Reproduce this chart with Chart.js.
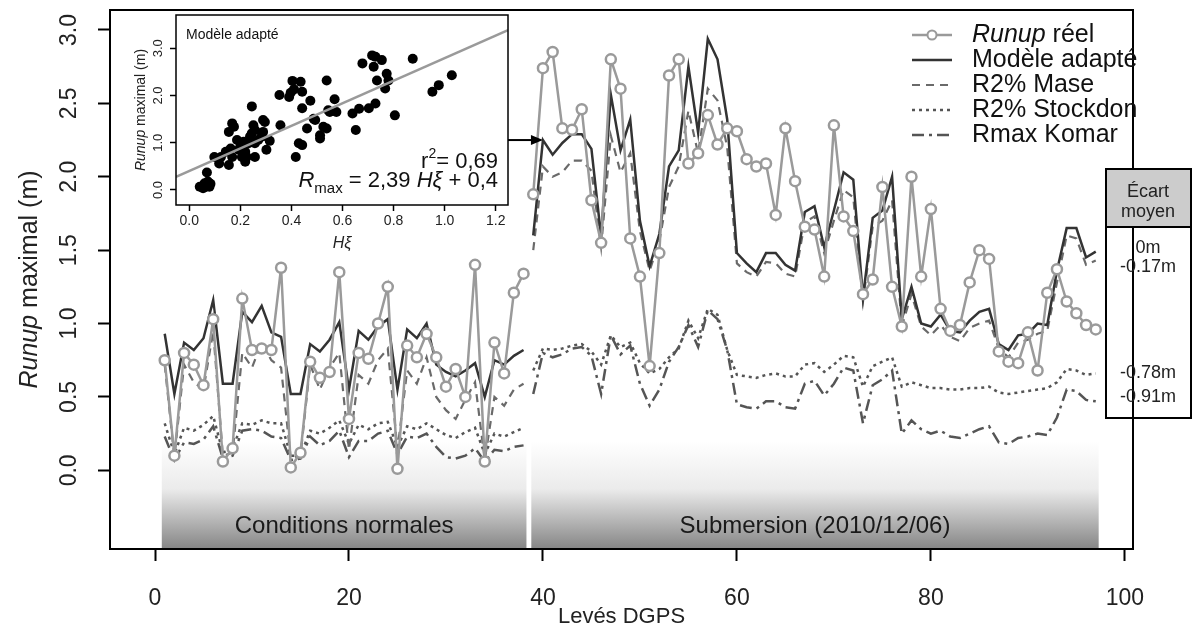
<!DOCTYPE html>
<html>
<head>
<meta charset="utf-8">
<script src="https://cdn.jsdelivr.net/npm/chart.js@4.4.0/dist/chart.umd.min.js"></script>
<style>
  html, body { margin: 0; padding: 0; background: #fff; }
  #wrap { position: relative; width: 1192px; height: 630px; overflow: hidden; }
  #main { position: absolute; left: 0; top: 0; }
  #inset { position: absolute; left: 120px; top: 8px; }
</style>
</head>
<body>
<div id="wrap">
  <canvas id="main" width="1192" height="630"></canvas>
  <canvas id="inset" width="400" height="260"></canvas>
</div>
<script>
const FONT = '"Liberation Sans", Arial, Helvetica, sans-serif';

// Levés 1-38 : conditions normales, levés 39-97 : submersion
const runupNormal = [0.75, 0.10, 0.80, 0.72, 0.58, 1.03, 0.06, 0.15, 1.17, 0.82,
  0.83, 0.82, 1.38, 0.02, 0.12, 0.74, 0.63, 0.67, 1.35, 0.35,
  0.80, 0.76, 1.00, 1.25, 0.01, 0.85, 0.77, 0.93, 0.77, 0.57,
  0.69, 0.50, 1.40, 0.06, 0.87, 0.66, 1.21, 1.34];
const runupSubmersion = [1.88, 2.74, 2.85, 2.33, 2.32, 2.46, 1.84, 1.55, 2.80, 2.60,
  1.58, 1.32, 0.71, 1.48, 2.69, 2.80, 2.09, 2.16, 2.42, 2.22,
  2.33, 2.31, 2.12, 2.07, 2.09, 1.74, 2.33, 1.97, 1.66, 1.64,
  1.32, 2.35, 1.73, 1.63, 1.20, 1.30, 1.93, 1.25, 0.98, 2.00,
  1.32, 1.78, 1.10, 0.95, 0.99, 1.28, 1.50, 1.44, 0.81, 0.74,
  0.73, 0.94, 0.68, 1.21, 1.37, 1.15, 1.07, 0.99, 0.96];

const modeleNormal = [0.93, 0.52, 0.87, 0.82, 0.90, 1.16, 0.59, 0.59, 1.08, 1.01,
  1.12, 0.94, 0.91, 0.52, 0.52, 0.86, 0.81, 0.89, 1.01, 0.55,
  0.95, 0.89, 0.98, 1.03, 0.55, 0.96, 0.90, 1.00, 0.72, 0.67,
  0.64, 0.68, 0.73, 0.50, 0.75, 0.72, 0.78, 0.82];
const modeleSubmersion = [1.60, 2.25, 2.15, 2.23, 2.29, 2.29, 2.19, 1.59, 2.56, 2.18,
  2.39, 1.70, 1.39, 1.61, 2.07, 2.18, 2.75, 2.30, 2.94, 2.80,
  2.39, 1.48, 1.41, 1.35, 1.48, 1.48, 1.40, 1.36, 1.76, 1.80,
  1.52, 1.77, 2.03, 1.98, 1.18, 1.72, 1.77, 2.00, 1.03, 1.25,
  1.00, 0.98, 1.06, 0.95, 0.94, 1.02, 1.08, 1.10, 0.86, 0.82,
  0.92, 0.93, 1.00, 0.99, 1.36, 1.65, 1.65, 1.45, 1.49];

const maseNormal = [0.72, 0.09, 0.72, 0.60, 0.55, 0.95, 0.10, 0.12, 0.80, 0.70,
  0.87, 0.75, 0.70, 0.08, 0.10, 0.72, 0.55, 0.70, 0.80, 0.14,
  0.65, 0.59, 0.75, 0.83, 0.14, 0.68, 0.59, 0.77, 0.50, 0.41,
  0.35, 0.48, 0.60, 0.07, 0.50, 0.44, 0.55, 0.59];
const maseSubmersion = [1.50, 2.07, 2.00, 2.03, 2.11, 2.11, 2.04, 1.52, 2.28, 2.03,
  2.16, 1.63, 1.36, 1.56, 1.93, 2.07, 2.45, 2.16, 2.60, 2.52,
  2.20, 1.41, 1.35, 1.32, 1.42, 1.41, 1.34, 1.32, 1.69, 1.73,
  1.48, 1.70, 1.91, 1.86, 1.15, 1.66, 1.70, 1.84, 0.98, 1.20,
  0.98, 0.92, 0.99, 0.91, 0.88, 0.97, 1.00, 1.02, 0.83, 0.77,
  0.87, 0.89, 0.93, 0.95, 1.28, 1.60, 1.58, 1.40, 1.43];

const stockdonNormal = [0.32, 0.11, 0.29, 0.27, 0.31, 0.37, 0.12, 0.15, 0.32, 0.31,
  0.34, 0.32, 0.32, 0.10, 0.10, 0.27, 0.25, 0.29, 0.34, 0.18,
  0.31, 0.28, 0.32, 0.33, 0.16, 0.30, 0.28, 0.32, 0.28, 0.24,
  0.22, 0.26, 0.29, 0.11, 0.25, 0.23, 0.26, 0.29];
const stockdonSubmersion = [0.68, 0.83, 0.82, 0.83, 0.85, 0.86, 0.81, 0.72, 0.92, 0.84,
  0.87, 0.73, 0.66, 0.69, 0.77, 0.83, 1.02, 0.90, 1.10, 1.06,
  0.82, 0.65, 0.64, 0.63, 0.65, 0.66, 0.64, 0.64, 0.72, 0.73,
  0.67, 0.72, 0.78, 0.77, 0.57, 0.71, 0.74, 0.77, 0.57, 0.60,
  0.58, 0.56, 0.56, 0.55, 0.55, 0.56, 0.56, 0.57, 0.53, 0.52,
  0.53, 0.54, 0.55, 0.56, 0.60, 0.69, 0.68, 0.65, 0.66];

const komarNormal = [0.23, 0.07, 0.19, 0.18, 0.21, 0.30, 0.08, 0.10, 0.27, 0.28,
  0.27, 0.23, 0.22, 0.07, 0.08, 0.23, 0.17, 0.20, 0.27, 0.09,
  0.20, 0.20, 0.25, 0.27, 0.11, 0.23, 0.22, 0.25, 0.16, 0.09,
  0.08, 0.10, 0.15, 0.06, 0.14, 0.13, 0.16, 0.17];
const komarSubmersion = [0.52, 0.80, 0.77, 0.79, 0.83, 0.84, 0.78, 0.52, 0.92, 0.79,
  0.85, 0.59, 0.44, 0.55, 0.74, 0.84, 0.99, 0.84, 1.09, 1.03,
  0.82, 0.45, 0.43, 0.42, 0.47, 0.47, 0.43, 0.42, 0.59, 0.61,
  0.51, 0.59, 0.70, 0.68, 0.32, 0.58, 0.62, 0.68, 0.25, 0.34,
  0.28, 0.25, 0.27, 0.23, 0.22, 0.25, 0.28, 0.30, 0.19, 0.18,
  0.22, 0.23, 0.25, 0.24, 0.36, 0.55, 0.54, 0.48, 0.47];

const xTicks = [0, 20, 40, 60, 80, 100];
const yTicks = [0, 0.5, 1, 1.5, 2, 2.5, 3];

// encart : runup observé en fonction de H.xi
const insetHxi = [0.041, 0.054, 0.066, 0.079, 0.060, 0.073, 0.083, 0.069, 0.098, 0.117,
  0.124, 0.143, 0.162, 0.168, 0.155, 0.168, 0.175, 0.155, 0.187, 0.194,
  0.200, 0.206, 0.213, 0.219, 0.219, 0.225, 0.232, 0.238, 0.245, 0.245,
  0.251, 0.257, 0.257, 0.257, 0.270, 0.283, 0.289, 0.296, 0.289, 0.302,
  0.315, 0.353, 0.357, 0.391, 0.397, 0.404, 0.410, 0.417, 0.436, 0.442,
  0.442, 0.429, 0.442, 0.461, 0.474, 0.487, 0.493, 0.512, 0.512, 0.525,
  0.538, 0.538, 0.544, 0.550, 0.569, 0.576, 0.639, 0.652, 0.665, 0.678,
  0.703, 0.716, 0.722, 0.729, 0.729, 0.735, 0.754, 0.767, 0.773, 0.780,
  0.805, 0.875, 0.952, 0.977, 1.028];
const insetRunup = [0.07, 0.035, 0.07, 0.07, 0.14, 0.18, 0.13, 0.37, 0.70, 0.56,
  0.70, 0.81, 0.88, 0.70, 0.53, 1.41, 1.34, 1.23, 1.06, 0.85,
  0.92, 0.70, 1.02, 0.81, 0.60, 0.70, 0.99, 1.13, 1.77, 1.20,
  1.37, 1.27, 0.99, 0.70, 1.06, 1.13, 1.48, 1.44, 1.23, 0.85,
  1.04, 2.01, 1.37, 1.97, 2.06, 2.31, 2.13, 0.70, 2.29, 2.08,
  1.73, 0.99, 0.95, 1.30, 1.89, 1.51, 1.48, 1.16, 1.09, 1.34,
  1.30, 2.32, 1.69, 1.65, 1.92, 1.65, 1.62, 1.27, 1.72, 2.68,
  1.73, 2.85, 2.61, 2.82, 1.83, 2.32, 2.75, 2.15, 2.46, 2.32,
  1.58, 2.78, 2.08, 2.22, 2.43];
const fitSlope = 2.39;
const fitIntercept = 0.4;
const insetXTicks = [0, 0.2, 0.4, 0.6, 0.8, 1.0, 1.2];
const insetYTicks = [0, 1, 2, 3];

const tableRows = [
  { text: '0m', y: 248 },
  { text: '-0.17m', y: 267 },
  { text: '-0.78m', y: 373 },
  { text: '-0.91m', y: 397 }
];

// one series = normal survey then a break then the submersion survey
function buildSeries(normal, submersion) {
  const pts = normal.map((v, i) => ({ x: i + 1, y: v }));
  pts.push({ x: normal.length + 0.5, y: null });
  submersion.forEach((v, i) => pts.push({ x: normal.length + i + 1, y: v }));
  return pts;
}

function drawRich(ctx, parts, x, y, align) {
  let w = 0;
  parts.forEach(p => { ctx.font = p.font; w += ctx.measureText(p.text).width; });
  let cx = align === 'center' ? x - w / 2 : align === 'right' ? x - w : x;
  ctx.textAlign = 'left';
  ctx.textBaseline = 'middle';
  parts.forEach(p => {
    ctx.font = p.font;
    ctx.fillText(p.text, cx, y + (p.dy || 0));
    cx += ctx.measureText(p.text).width;
  });
}

const datasets = [
  {
    label: 'Runup réel',
    legendParts: [{ text: 'Runup', font: 'italic 25px ' + FONT }, { text: ' réel', font: '25px ' + FONT }],
    data: buildSeries(runupNormal, runupSubmersion),
    borderColor: '#9a9a9a', borderWidth: 2.5,
    pointRadius: 5, pointBorderWidth: 2.5, pointBorderColor: '#9a9a9a', pointBackgroundColor: '#fff'
  },
  {
    label: 'Modèle adapté',
    data: buildSeries(modeleNormal, modeleSubmersion),
    borderColor: '#333', borderWidth: 2.5, pointRadius: 0
  },
  {
    label: 'R2% Mase',
    data: buildSeries(maseNormal, maseSubmersion),
    borderColor: '#6a6a6a', borderWidth: 2.2, borderDash: [8, 6], pointRadius: 0
  },
  {
    label: 'R2% Stockdon',
    data: buildSeries(stockdonNormal, stockdonSubmersion),
    borderColor: '#555', borderWidth: 2.5, borderDash: [3, 4], pointRadius: 0
  },
  {
    label: 'Rmax Komar',
    data: buildSeries(komarNormal, komarSubmersion),
    borderColor: '#555', borderWidth: 2.5, borderDash: [12, 5, 3, 5], pointRadius: 0
  }
];

const bands = [
  { from: 0.7, to: 38.3, label: 'Conditions normales' },
  { from: 38.8, to: 97.3, label: 'Submersion (2010/12/06)' }
];

const mainDecor = {
  id: 'mainDecor',
  beforeDatasetsDraw(chart) {
    const { ctx, chartArea, scales: { x, y } } = chart;
    const top = y.getPixelForValue(0.2);
    const bottom = chartArea.bottom - 1;
    ctx.save();
    bands.forEach(b => {
      const l = x.getPixelForValue(b.from), r = x.getPixelForValue(b.to);
      const grad = ctx.createLinearGradient(0, top, 0, bottom);
      grad.addColorStop(0, '#ffffff');
      grad.addColorStop(0.45, '#ebebeb');
      grad.addColorStop(1, '#878787');
      ctx.fillStyle = grad;
      ctx.fillRect(l, top, r - l, bottom - top);
      ctx.fillStyle = '#1a1a1a';
      ctx.font = '24px ' + FONT;
      ctx.textAlign = 'center';
      ctx.textBaseline = 'middle';
      ctx.fillText(b.label, (l + r) / 2, y.getPixelForValue(-0.38));
    });
    ctx.restore();
  },
  afterDraw(chart) {
    const { ctx, chartArea: a, scales: { x, y } } = chart;
    ctx.save();
    // plot box
    ctx.strokeStyle = '#000';
    ctx.lineWidth = 2;
    ctx.strokeRect(a.left, a.top, a.right - a.left, a.bottom - a.top);

    // y tick labels, parallel to the axis
    ctx.fillStyle = '#222';
    yTicks.forEach(v => {
      ctx.save();
      ctx.translate(70, y.getPixelForValue(v));
      ctx.rotate(-Math.PI / 2);
      ctx.font = '23px ' + FONT;
      ctx.textAlign = 'center';
      ctx.textBaseline = 'middle';
      ctx.fillText(v.toFixed(1), 0, 0);
      ctx.restore();
    });
    ctx.save();
    ctx.translate(30, (a.top + a.bottom) / 2);
    ctx.rotate(-Math.PI / 2);
    drawRich(ctx, [{ text: 'Runup', font: 'italic 25px ' + FONT }, { text: ' maximal (m)', font: '25px ' + FONT }], 0, 0, 'center');
    ctx.restore();

    // legend
    chart.data.datasets.forEach((ds, i) => {
      const ly = 35 + i * 25;
      ctx.save();
      ctx.strokeStyle = ds.borderColor;
      ctx.lineWidth = ds.borderWidth;
      ctx.setLineDash(ds.borderDash || []);
      ctx.beginPath();
      ctx.moveTo(912, ly);
      ctx.lineTo(952, ly);
      ctx.stroke();
      if (ds.pointRadius) {
        ctx.setLineDash([]);
        ctx.fillStyle = '#fff';
        ctx.lineWidth = 2;
        ctx.beginPath();
        ctx.arc(932, ly, 4.5, 0, Math.PI * 2);
        ctx.fill();
        ctx.stroke();
      }
      ctx.restore();
      ctx.fillStyle = '#111';
      drawRich(ctx, ds.legendParts || [{ text: ds.label, font: '25px ' + FONT }], 972, ly, 'left');
    });

    // arrow from the inset to the model curve
    const ay = y.getPixelForValue(modeleSubmersion[1]);
    const ax = x.getPixelForValue(40);
    ctx.strokeStyle = '#000';
    ctx.fillStyle = '#000';
    ctx.lineWidth = 2;
    ctx.beginPath();
    ctx.moveTo(508, ay);
    ctx.lineTo(ax - 8, ay);
    ctx.stroke();
    ctx.beginPath();
    ctx.moveTo(ax, ay);
    ctx.lineTo(ax - 12, ay - 5);
    ctx.lineTo(ax - 12, ay + 5);
    ctx.closePath();
    ctx.fill();

    // table "Écart moyen"
    ctx.fillStyle = '#cccccc';
    ctx.fillRect(1106, 169, 85, 58);
    ctx.strokeRect(1106, 169, 85, 249);
    ctx.beginPath();
    ctx.moveTo(1106, 227);
    ctx.lineTo(1191, 227);
    ctx.stroke();
    ctx.fillStyle = '#222';
    ctx.font = '18px ' + FONT;
    ctx.textAlign = 'center';
    ctx.textBaseline = 'middle';
    ctx.fillText('Écart', 1148, 192);
    ctx.fillText('moyen', 1148, 212);
    tableRows.forEach(r => ctx.fillText(r.text, 1148, r.y));
    ctx.restore();
  }
};

new Chart(document.getElementById('main'), {
  type: 'line',
  data: { datasets },
  options: {
    responsive: false,
    animation: false,
    events: [],
    layout: { padding: { top: 10, right: 59, left: 0, bottom: 0 } },
    plugins: { legend: { display: false }, tooltip: { enabled: false } },
    elements: { line: { tension: 0 } },
    scales: {
      x: {
        type: 'linear', min: -4.64, max: 100.84,
        afterFit: s => { s.height = 81; },
        afterBuildTicks: s => { s.ticks = xTicks.map(v => ({ value: v })); },
        ticks: { font: { family: FONT, size: 23 }, color: '#222', padding: 24, maxRotation: 0 },
        grid: { drawOnChartArea: false, drawTicks: true, tickLength: 12, tickWidth: 2, tickColor: '#000' },
        border: { display: false },
        title: { display: true, text: 'Levés DGPS', font: { family: FONT, size: 22 }, color: '#222', padding: { top: 0, bottom: 0 } }
      },
      y: {
        type: 'linear', min: -0.536, max: 3.136,
        afterFit: s => { s.width = 110; },
        afterBuildTicks: s => { s.ticks = yTicks.map(v => ({ value: v })); },
        ticks: { display: false },
        grid: { drawOnChartArea: false, drawTicks: true, tickLength: 12, tickWidth: 2, tickColor: '#000' },
        border: { display: false }
      }
    }
  },
  plugins: [mainDecor]
});

// ---- inset scatter ----
const insetDecor = {
  id: 'insetDecor',
  afterDraw(chart) {
    const { ctx, chartArea: a, scales: { y } } = chart;
    ctx.save();
    ctx.strokeStyle = '#000';
    ctx.lineWidth = 1.5;
    ctx.strokeRect(a.left, a.top, a.right - a.left, a.bottom - a.top);
    ctx.fillStyle = '#222';
    insetYTicks.forEach(v => {
      ctx.save();
      ctx.translate(a.left - 18, y.getPixelForValue(v));
      ctx.rotate(-Math.PI / 2);
      ctx.font = '13px ' + FONT;
      ctx.textAlign = 'center';
      ctx.textBaseline = 'middle';
      ctx.fillText(v.toFixed(1), 0, 0);
      ctx.restore();
    });
    ctx.save();
    ctx.translate(a.left - 35, (a.top + a.bottom) / 2);
    ctx.rotate(-Math.PI / 2);
    drawRich(ctx, [{ text: 'Runup', font: 'italic 14px ' + FONT }, { text: ' maximal (m)', font: '14px ' + FONT }], 0, 0, 'center');
    ctx.restore();

    ctx.fillStyle = '#111';
    ctx.font = '14px ' + FONT;
    ctx.textAlign = 'left';
    ctx.textBaseline = 'middle';
    ctx.fillText('Modèle adapté', a.left + 10, a.top + 20);

    const rx = a.right - 10;
    drawRich(ctx, [
      { text: 'r', font: '22px ' + FONT },
      { text: '2', font: '14px ' + FONT, dy: -8 },
      { text: '= 0,69', font: '22px ' + FONT }
    ], rx, a.top + 147, 'right');
    drawRich(ctx, [
      { text: 'R', font: 'italic 22px ' + FONT },
      { text: 'max', font: '15px ' + FONT, dy: 8 },
      { text: ' = 2,39 ', font: '22px ' + FONT },
      { text: 'Hξ', font: 'italic 22px ' + FONT },
      { text: ' + 0,4', font: '22px ' + FONT }
    ], rx, a.top + 166, 'right');
    ctx.restore();
  }
};

const fitEnds = [-0.052, 1.248];
new Chart(document.getElementById('inset'), {
  type: 'scatter',
  data: {
    datasets: [
      {
        type: 'line',
        data: fitEnds.map(v => ({ x: v, y: fitIntercept + fitSlope * v })),
        borderColor: '#9a9a9a', borderWidth: 2.5, pointRadius: 0
      },
      {
        data: insetHxi.map((v, i) => ({ x: v, y: insetRunup[i] })),
        pointRadius: 5, pointBackgroundColor: '#000', pointBorderColor: '#000', pointBorderWidth: 0
      }
    ]
  },
  options: {
    responsive: false,
    animation: false,
    events: [],
    layout: { padding: { top: 7, right: 12, left: 0, bottom: 0 } },
    plugins: { legend: { display: false }, tooltip: { enabled: false } },
    scales: {
      x: {
        type: 'linear', min: -0.052, max: 1.248,
        afterFit: s => { s.height = 63; },
        afterBuildTicks: s => { s.ticks = insetXTicks.map(v => ({ value: v })); },
        ticks: { font: { family: FONT, size: 14 }, color: '#222', padding: 2, maxRotation: 0, callback: v => v.toFixed(1) },
        grid: { drawOnChartArea: false, drawTicks: true, tickLength: 6, tickWidth: 1.5, tickColor: '#000' },
        border: { display: false },
        title: { display: true, text: 'Hξ', font: { family: FONT, size: 16, style: 'italic' }, color: '#222', padding: { top: 0, bottom: 15 } }
      },
      y: {
        type: 'linear', min: -0.318, max: 3.705,
        afterFit: s => { s.width = 56; },
        afterBuildTicks: s => { s.ticks = insetYTicks.map(v => ({ value: v })); },
        ticks: { display: false },
        grid: { drawOnChartArea: false, drawTicks: true, tickLength: 6, tickWidth: 1.5, tickColor: '#000' },
        border: { display: false }
      }
    }
  },
  plugins: [insetDecor]
});
</script>
</body>
</html>
